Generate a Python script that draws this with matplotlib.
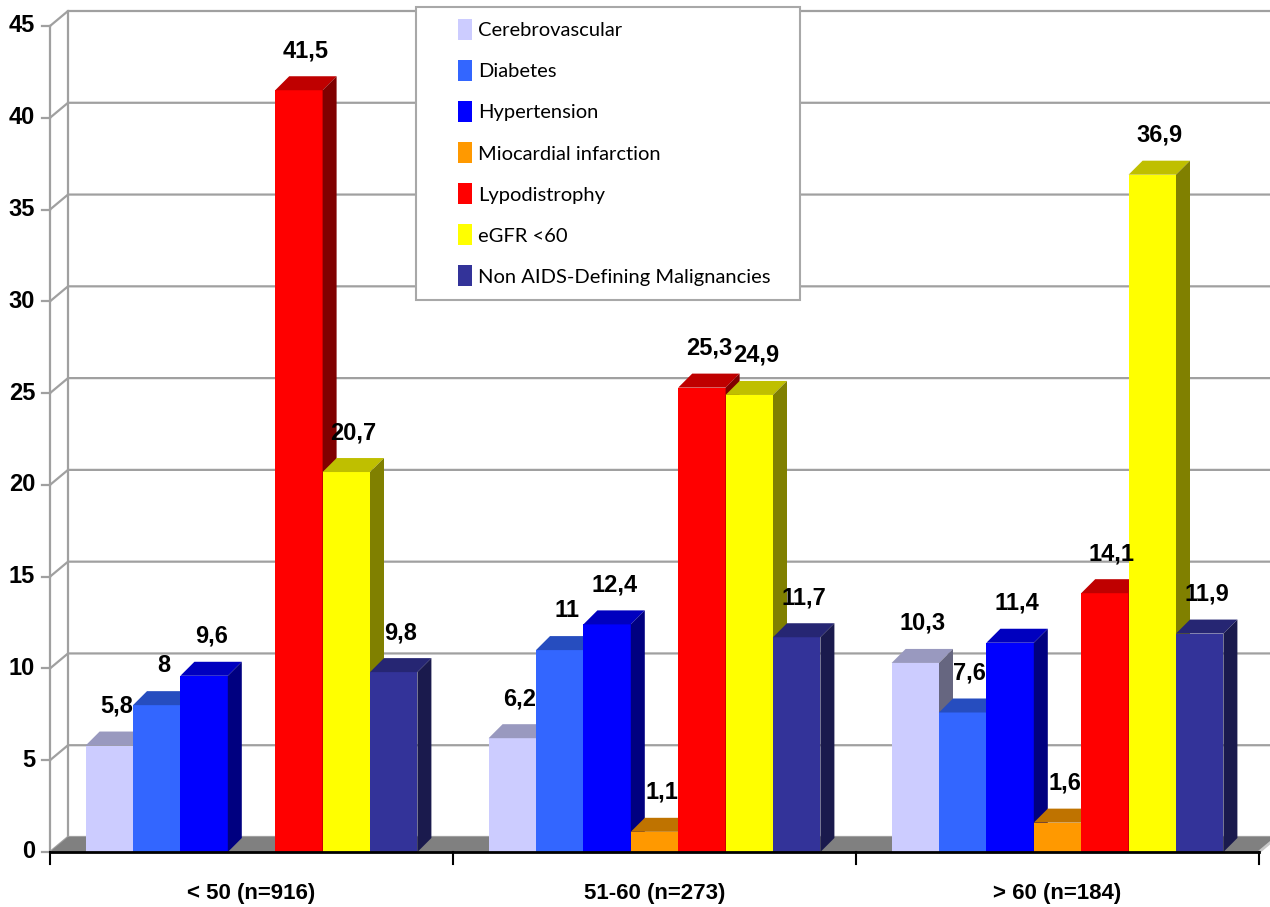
import matplotlib.pyplot as plt
from matplotlib.patches import Polygon, Rectangle, Patch
import numpy as np

# age groups and prevalence (%) of each comorbidity
groups = ['< 50 (n=916)', '51-60 (n=273)', '> 60 (n=184)']
series = ['Cerebrovascular', 'Diabetes', 'Hypertension', 'Miocardial infarction',
          'Lypodistrophy', 'eGFR <60', 'Non AIDS-Defining Malignancies']
cerebrovascular = [5.8, 6.2, 10.3]
diabetes = [8, 11, 7.6]
hypertension = [9.6, 12.4, 11.4]
miocardial = [None, 1.1, 1.6]
lypodistrophy = [41.5, 25.3, 14.1]
egfr = [20.7, 24.9, 36.9]
non_aids = [9.8, 11.7, 11.9]
values = [cerebrovascular, diabetes, hypertension, miocardial, lypodistrophy, egfr, non_aids]
colors = ['#CCCCFF', '#3366FF', '#0000FF', '#FF9900', '#FF0000', '#FFFF00', '#333399']
yticks = [0, 5, 10, 15, 20, 25, 30, 35, 40, 45]

W, H = 1270, 907
fig = plt.figure(figsize=(W / 100, H / 100), dpi=100)
ax = fig.add_axes([50 / W, 55 / H, 1209 / W, 826 / H])
ax.set_xlim(-0.5, 2.5)
ax.set_ylim(0, 45)
ax.axis('off')

# pixels -> data units
sx = 1209 / 3
sy = 826 / 45
def px_x(p):
    return p / sx
def px_y(p):
    return p / sy

narrow = ['Liberation Sans Narrow', 'Liberation Sans', 'DejaVu Sans']
grid_c = '#A0A0A0'
wdx, wdy = px_x(18), px_y(15)   # back wall offset
bdx, bdy = px_x(14), px_y(14)   # bar depth

# back wall gridlines + left wall
for t in yticks:
    ax.plot([-0.5, -0.5 + wdx, 2.5 + wdx + 0.2], [t, t + wdy, t + wdy],
            color=grid_c, lw=1.6, clip_on=False, zorder=1)
    ax.plot([-0.5 - px_x(8), -0.5], [t, t], color=grid_c, lw=1.6, clip_on=False, zorder=1)
    ax.text(-0.5 - px_x(15), t, str(t), ha='right', va='center', fontsize=17,
            fontweight='bold', family=narrow, clip_on=False)
ax.plot([-0.5 + wdx] * 2, [wdy, 45 + wdy], color=grid_c, lw=1.6, clip_on=False, zorder=1)
ax.plot([-0.5, -0.5], [0, 45], color=grid_c, lw=1.6, clip_on=False, zorder=1)

# floor
ax.add_patch(Polygon([(-0.5, 0), (2.5, 0), (2.5 + wdx, wdy), (-0.5 + wdx, wdy)],
                     closed=True, facecolor='#808080', edgecolor='none', clip_on=False, zorder=2))
ax.plot([2.5, 2.5 + wdx], [0, wdy], color='#C8C8C8', lw=2, clip_on=False, zorder=2)

def shade(c, f):
    r, g, b = [int(c[i:i + 2], 16) / 255 for i in (1, 3, 5)]
    return (r * f, g * f, b * f)

# 3D bars: front face via ax.bar, top and side faces as polygons
w = 47.4 / sx
n = 0
for i in range(len(groups)):
    for k, (vals, c) in enumerate(zip(values, colors)):
        v = vals[i]
        if v is None:
            continue
        xc = i + (k - 3) * w
        xl, xr = xc - w / 2, xc + w / 2
        z = 3 + 0.01 * n
        n += 1
        ax.bar(xc, v, width=w, color=c, edgecolor='none', zorder=z)
        ax.add_patch(Polygon([(xl, v), (xr, v), (xr + bdx, v + bdy), (xl + bdx, v + bdy)],
                             facecolor=shade(c, 0.75), edgecolor='none', zorder=z))
        ax.add_patch(Polygon([(xr, 0), (xr, v), (xr + bdx, v + bdy), (xr + bdx, bdy)],
                             facecolor=shade(c, 0.5), edgecolor='none', zorder=z))
        lab = f'{v:g}'.replace('.', ',')
        ax.text(xc + bdx / 2, v + bdy + px_y(14), lab, ha='center', va='bottom',
                fontsize=17, fontweight='bold', family=narrow, zorder=10)

# front x axis with group ticks
ax.plot([-0.5, 2.5], [0, 0], color='black', lw=2, clip_on=False, zorder=9)
for xb in [-0.5, 0.5, 1.5, 2.5]:
    ax.plot([xb, xb], [0, -px_y(12)], color='black', lw=1.5, clip_on=False, zorder=9)
for i, g in enumerate(groups):
    ax.text(i, -px_y(41), g, ha='center', va='center', fontsize=16,
            fontweight='bold', family=narrow, clip_on=False)

# legend with its own frame
fig.patches.append(Rectangle((416 / W, 1 - 300 / H), 384 / W, 293 / H,
                             transform=fig.transFigure, facecolor='white',
                             edgecolor='#A8A8A8', lw=1.5, zorder=4))
handles = [Patch(facecolor=c, edgecolor='none') for c in colors]
fig.legend(handles, series, loc='upper left', bbox_to_anchor=(458 / W, 1 - 19 / H),
           bbox_transform=fig.transFigure, frameon=False, borderpad=0, borderaxespad=0,
           prop={'family': ['Lato', 'DejaVu Sans'], 'size': 14.5},
           handlelength=0.7, handleheight=1.25, handletextpad=0.3, labelspacing=0.98)

fig.savefig('out.png', dpi=100)
